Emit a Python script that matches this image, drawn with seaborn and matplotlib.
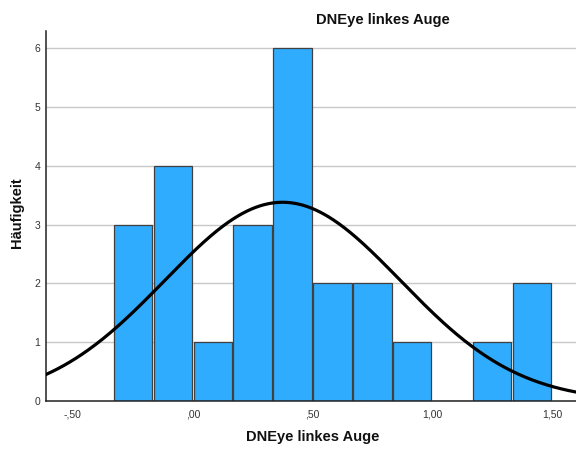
import numpy as np
import pandas as pd
import seaborn as sns
import matplotlib
matplotlib.use("Agg")
import matplotlib.pyplot as plt

# Histogram classes (lower edges, width) and frequencies
bin_width = 1 / 6
bin_lower = [-2/6, -1/6, 0/6, 1/6, 2/6, 3/6, 4/6, 5/6, 6/6, 7/6, 8/6]
counts = [3, 4, 1, 3, 6, 2, 2, 1, 0, 1, 2]

# Normal curve parameters
mean_val = 0.375
sd_val = 0.492
n_total = sum(counts)

x_ticks = [-0.5, 0.0, 0.5, 1.0, 1.5]
x_tick_labels = ["-,50", ",00", ",50", "1,00", "1,50"]
y_ticks = [0, 1, 2, 3, 4, 5, 6]

sns.set_theme(style="white")
plt.rcParams["font.family"] = ["Liberation Sans", "DejaVu Sans"]

fig = plt.figure(figsize=(5.76, 4.49), dpi=100)
ax = fig.add_axes([46/576, 48/449, 1 - 46/576, (401 - 31)/449])

centers = [lo + bin_width / 2 for lo in bin_lower]
edges = bin_lower + [bin_lower[-1] + bin_width]
df = pd.DataFrame({"value": centers, "freq": counts})

for y in y_ticks[1:]:
    ax.axhline(y, color="#c8c8c8", lw=1, zorder=0)

sns.histplot(data=df, x="value", weights="freq", bins=edges, ax=ax,
             color="#30acff", alpha=1, edgecolor="#404040", linewidth=0.9,
             shrink=0.96, zorder=2)

xs = np.linspace(-0.7, 1.7, 400)
pdf = np.exp(-0.5 * ((xs - mean_val) / sd_val) ** 2) / (sd_val * np.sqrt(2 * np.pi))
sns.lineplot(x=xs, y=n_total * bin_width * pdf, ax=ax, color="black", lw=2.3, zorder=3)

ax.set_xlim(-0.6125, 1.6)
ax.set_ylim(0, 6.29)
ax.set_xticks(x_ticks)
ax.set_xticklabels(x_tick_labels)
ax.set_yticks(y_ticks)
ax.tick_params(axis="both", length=0, labelsize=7.5, colors="#333333")
ax.tick_params(axis="x", pad=6)
ax.tick_params(axis="y", pad=4)

for side in ["top", "right"]:
    ax.spines[side].set_visible(False)
for side in ["left", "bottom"]:
    ax.spines[side].set_color("#222222")
    ax.spines[side].set_linewidth(1.1)

ax.set_xlabel("")
ax.set_ylabel("")
fig.text(313/576, 1 - 437/449, "DNEye linkes Auge", ha="center", va="center",
         fontsize=10.5, fontweight="bold", color="#111111")
fig.text(17/576, 1 - 213/449, "Häufigkeit", ha="center", va="center",
         rotation=90, fontsize=10.5, fontweight="bold", color="#111111")
fig.text(383/576, 1 - 20/449, "DNEye linkes Auge", ha="center", va="center",
         fontsize=10.6, fontweight="bold", color="#111111")

fig.savefig("out.png", dpi=100)
